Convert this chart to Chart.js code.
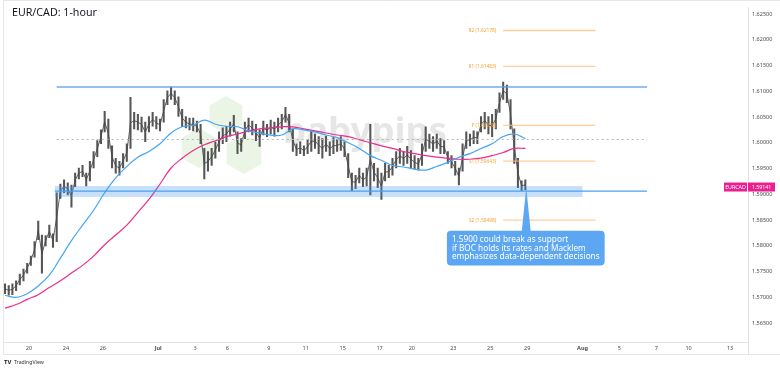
<!DOCTYPE html>
<html><head><meta charset="utf-8">
<script src="https://cdn.jsdelivr.net/npm/chart.js@4.4.1/dist/chart.umd.min.js"></script>
<style>html,body{margin:0;padding:0;background:#fff;}#wrap{width:780px;height:369px;position:relative;}</style>
</head><body><div id="wrap"><canvas id="c" width="780" height="369"></canvas></div>
<script>
// ---- DATA (x in trading days, 0 = Jun 20) ----
const title = 'EUR/CAD: 1-hour';
const candleStart = -1.3, candleStep = 0.2; // 4-hour sampling of the 1h chart
const candleHigh = [1.5726,1.5723,1.5726,1.5732,1.5745,1.5755,1.5766,1.5780,1.5808,1.5848,
1.5821,1.5820,1.5840,1.5823,1.5903,1.5920,1.5928,1.5922,1.5918,1.5941,
1.5951,1.5956,1.5941,1.5964,1.5983,1.6004,1.6025,1.6061,1.6046,1.5994,
1.5970,1.5964,1.5979,1.5998,1.6088,1.6059,1.6055,1.6050,1.6040,1.6051,
1.6059,1.6051,1.6046,1.6084,1.6101,1.6108,1.6101,1.6089,1.6065,1.6051,
1.6048,1.6048,1.6042,1.6036,1.5989,1.5983,1.5989,1.6002,1.6021,1.6029,
1.6032,1.6040,1.6053,1.6021,1.6008,1.6040,1.6048,1.6042,1.6036,1.6025,
1.6042,1.6036,1.6044,1.6040,1.6048,1.6055,1.6069,1.6055,1.6027,1.5998,
1.6002,1.5994,1.6006,1.6023,1.6017,1.6012,1.6008,1.6013,1.6002,1.6010,
1.6006,1.6012,1.6002,1.5979,1.5941,1.5937,1.5951,1.5941,1.5951,1.6036,
1.5960,1.5951,1.5941,1.5960,1.5956,1.5970,1.5983,1.5989,1.5983,1.5993,
1.5985,1.5975,1.5970,1.5998,1.6031,1.6017,1.6012,1.6017,1.6008,1.6004,
1.5983,1.5975,1.5964,1.5951,1.5998,1.6021,1.6017,1.6023,1.6021,1.6051,
1.6059,1.6051,1.6055,1.6065,1.6097,1.6118,1.6112,1.6084,1.6027,1.5970,
1.5926,1.5928];
const candleLow = [1.5707,1.5704,1.5705,1.5713,1.5724,1.5732,1.5747,1.5762,1.5778,1.5812,
1.5747,1.5800,1.5816,1.5797,1.5808,1.5892,1.5903,1.5899,1.5875,1.5915,
1.5930,1.5934,1.5916,1.5926,1.5951,1.5973,1.5998,1.6021,1.5989,1.5951,
1.5941,1.5937,1.5951,1.5964,1.5989,1.6027,1.6025,1.6021,1.6002,1.6021,
1.6032,1.6027,1.6023,1.6040,1.6074,1.6084,1.6074,1.6051,1.6031,1.6029,
1.6025,1.6023,1.6021,1.5998,1.5930,1.5945,1.5956,1.5970,1.5983,1.5998,
1.6002,1.6013,1.6021,1.5979,1.5983,1.6008,1.6021,1.6015,1.6004,1.5993,
1.6015,1.6012,1.6017,1.6013,1.6021,1.6027,1.6040,1.6021,1.5983,1.5975,
1.5979,1.5975,1.5979,1.5983,1.5989,1.5979,1.5970,1.5983,1.5975,1.5979,
1.5983,1.5985,1.5973,1.5932,1.5907,1.5911,1.5922,1.5915,1.5916,1.5899,
1.5926,1.5913,1.5890,1.5926,1.5932,1.5937,1.5951,1.5960,1.5956,1.5960,
1.5951,1.5949,1.5947,1.5956,1.5983,1.5989,1.5983,1.5989,1.5979,1.5979,
1.5960,1.5951,1.5937,1.5918,1.5945,1.5989,1.5994,1.5998,1.5998,1.6021,
1.6027,1.6017,1.6012,1.6027,1.6059,1.6084,1.6078,1.6027,1.5960,1.5913,
1.5907,1.5909];
const maStart = -1.3, maStep = 0.6;
const maBlue = [1.5704,1.5700,1.5707,1.5722,1.5743,1.5776,1.5810,1.5840,1.5869,1.5903,
1.5932,1.5954,1.5972,1.5983,1.5998,1.6019,1.6031,1.6034,1.6044,1.6036,
1.6032,1.6031,1.6023,1.6019,1.6015,1.6015,1.6027,1.6025,1.6021,1.6015,
1.6010,1.6000,1.5989,1.5975,1.5966,1.5956,1.5953,1.5949,1.5947,1.5954,
1.5962,1.5972,1.5979,1.5989,1.5998,1.6012,1.6017,1.6008];
const maPink = [1.5679,1.5686,1.5696,1.5705,1.5719,1.5732,1.5747,1.5762,1.5780,1.5802,
1.5821,1.5840,1.5865,1.5890,1.5920,1.5951,1.5970,1.5985,1.5996,1.6004,
1.6012,1.6017,1.6023,1.6027,1.6029,1.6031,1.6031,1.6027,1.6023,1.6019,
1.6015,1.6012,1.6006,1.6000,1.5994,1.5989,1.5983,1.5979,1.5975,1.5972,
1.5970,1.5968,1.5968,1.5970,1.5975,1.5981,1.5989,1.5989];
const xTickDays = [0,2,4,7,9,10.75,13,15,17,19,20.75,23,25,27,30,32,34,35.75,38];
const xTickLabels = ['20','24','26','Jul','3','6','9','11','15','17','20','23','25','29','Aug','5','7','10','13'];
const yTickValues = [1.565,1.570,1.575,1.580,1.585,1.590,1.595,1.600,1.605,1.610,1.615,1.620,1.625];
const resistanceLevel = 1.6108, dashedLevel = 1.6008, supportLevel = 1.5906;
const supportBand = [1.5895, 1.5916];
const pivotNames = ['R2','R1','P','S1','S2'];
const pivotValues = [1.62178,1.61483,1.60338,1.59643,1.58498];
const lastPrice = 1.59141, symbol = 'EURCAD';
const calloutLines = ['1.5900 could break as support','if BOC holds its rates and Macklem','emphasizes data-dependent decisions'];

// ---- annotation anchors (in data units) ----
const lineSpan = [1.5, 33.5], bandSpan = [1.4, 30.0], pivotSpan = [25.7, 30.7];
const calloutTip = {x: 26.95, y: 1.5913};
const calloutBox = {x0: 22.65, x1: 31.2, yTop: 1.5829, yBot: 1.5762};

const FAM = '"Noto Sans", "Open Sans", sans-serif';
function fitSize(ctx, text, font, weight, target){ctx.font = weight+' 100px '+font;return 100*target/ctx.measureText(text).width;}

const deco = {
  id:'deco',
  beforeDatasetsDraw(chart){
    const ctx = chart.ctx;
    ctx.save();
    ctx.strokeStyle = '#e6e6e6'; ctx.lineWidth = 1;
    ctx.beginPath(); ctx.moveTo(3.5,354.5); ctx.lineTo(3.5,0.5); ctx.lineTo(780,0.5); ctx.stroke();
    ctx.beginPath(); ctx.moveTo(3.5,354.5); ctx.lineTo(780,354.5); ctx.stroke();
    ctx.beginPath(); ctx.moveTo(748.5,342); ctx.lineTo(748.5,354.5); ctx.strokeStyle='#e0e3eb'; ctx.stroke();
    ctx.fillStyle = 'rgba(150,205,130,0.2)';
    [[226,115,19],[199,148,20],[244,154,20]].forEach(([cx,cy,r])=>{
      ctx.beginPath();
      for(let k=0;k<6;k++){const a=(-90+60*k)*Math.PI/180;const px=cx+r*Math.cos(a),py=cy+r*Math.sin(a);k?ctx.lineTo(px,py):ctx.moveTo(px,py);}
      ctx.closePath(); ctx.fill();
    });
    const ws = fitSize(ctx,'babypips',FAM,'bold',164);
    ctx.font = 'bold '+ws+'px '+FAM; ctx.fillStyle='rgba(140,140,140,0.22)'; ctx.textBaseline='alphabetic'; ctx.textAlign='left';
    ctx.fillText('babypips',283,143);
    ctx.restore();
  },
  afterDatasetsDraw(chart){
    const ctx = chart.ctx, xs = chart.scales.x, ys = chart.scales.y;
    const X = v=>xs.getPixelForValue(v), Y = v=>ys.getPixelForValue(v);
    ctx.save();
    ctx.fillStyle = 'rgba(66,150,240,0.30)';
    ctx.fillRect(X(bandSpan[0]), Y(supportBand[1]), X(bandSpan[1])-X(bandSpan[0]), Y(supportBand[0])-Y(supportBand[1]));
    ctx.strokeStyle = 'rgba(90,160,235,0.65)'; ctx.lineWidth = 2;
    ctx.beginPath(); ctx.moveTo(X(lineSpan[0]),Y(resistanceLevel)); ctx.lineTo(X(lineSpan[1]),Y(resistanceLevel)); ctx.stroke();
    ctx.strokeStyle = '#4a9ff0'; ctx.lineWidth = 1.3;
    ctx.beginPath(); ctx.moveTo(X(bandSpan[0]),Y(supportLevel)); ctx.lineTo(X(lineSpan[1]),Y(supportLevel)); ctx.stroke();
    ctx.strokeStyle = '#b5b5b5'; ctx.lineWidth = 1; ctx.setLineDash([2,3]);
    ctx.beginPath(); ctx.moveTo(X(lineSpan[0]),Math.round(Y(dashedLevel))+0.5); ctx.lineTo(X(lineSpan[1]),Math.round(Y(dashedLevel))+0.5); ctx.stroke();
    ctx.setLineDash([]);
    ctx.font = '4.8px '+FAM; ctx.textAlign='right'; ctx.textBaseline='middle';
    pivotValues.forEach((v,i)=>{
      const y = Y(v);
      ctx.strokeStyle='rgba(255,190,120,0.75)'; ctx.lineWidth=1.4;
      ctx.beginPath(); ctx.moveTo(X(pivotSpan[0]),y); ctx.lineTo(X(pivotSpan[1]),y); ctx.stroke();
      ctx.fillStyle='#f5a33a';
      ctx.fillText(pivotNames[i]+' ('+v.toFixed(5)+')', X(pivotSpan[0])-7, y);
    });
    const tipX = X(calloutTip.x), tipY = Y(calloutTip.y);
    const bx0 = X(calloutBox.x0), bx1 = X(calloutBox.x1), by0 = Y(calloutBox.yTop), by1 = Y(calloutBox.yBot);
    ctx.fillStyle = '#5ca6f2';
    ctx.beginPath(); ctx.moveTo(tipX,tipY); ctx.lineTo(tipX+4.5,by0+1); ctx.lineTo(tipX-4.5,by0+1); ctx.closePath(); ctx.fill();
    ctx.beginPath(); ctx.roundRect(bx0,by0,bx1-bx0,by1-by0,4); ctx.fill();
    const fs = fitSize(ctx,calloutLines[2],FAM,'normal',148);
    ctx.font = fs+'px '+FAM; ctx.fillStyle='#ffffff'; ctx.textAlign='left'; ctx.textBaseline='alphabetic';
    calloutLines.forEach((t,i)=>ctx.fillText(t,bx0+5,by0+11+i*8.7));
    const py = Y(lastPrice);
    ctx.fillStyle = '#ec1f8e';
    ctx.fillRect(724,py-4.5,23,9); ctx.fillRect(748,py-4.5,27,9);
    ctx.fillStyle='#fff'; ctx.font='5.3px '+FAM; ctx.textAlign='center'; ctx.textBaseline='middle';
    ctx.fillText(symbol,735.5,py+0.3); ctx.fillText(lastPrice.toFixed(5),761.5,py+0.3);
    const ts = fitSize(ctx,title,FAM,'normal',85);
    ctx.font = ts+'px '+FAM; ctx.fillStyle='#131722'; ctx.textAlign='left'; ctx.textBaseline='alphabetic';
    ctx.fillText(title,12,15.5);
    ctx.font='bold 6px '+FAM; ctx.fillStyle='#131722'; ctx.fillText('TV',4,364);
    ctx.font='5.2px '+FAM; ctx.fillStyle='#333'; ctx.fillText('TradingView',14,364);
    ctx.restore();
  }
};

const candleX = i => candleStart + candleStep*i;
new Chart(document.getElementById('c'), {
  type:'bar',
  data:{datasets:[
    {type:'line', data: maBlue.map((v,k)=>({x:maStart+maStep*k,y:v})), borderColor:'#42a5f5', borderWidth:1.2, pointRadius:0, tension:0.4, order:0},
    {type:'line', data: maPink.map((v,k)=>({x:maStart+maStep*k,y:v})), borderColor:'#ee2c8c', borderWidth:1.2, pointRadius:0, tension:0.4, order:0},
    {type:'line', data: candleHigh.map((h,i)=>({x:candleX(i), y:(h+candleLow[i])/2})), borderColor:'rgba(70,70,70,0.85)', borderWidth:1, pointRadius:0, tension:0, order:1},
    {type:'bar', data: candleHigh.map((h,i)=>({x:candleX(i), y:[candleLow[i],h]})), backgroundColor:'#555555', barThickness:1.4, grouped:false, order:2}
  ]},
  options:{
    responsive:false, animation:false, devicePixelRatio:1,
    layout:{padding:{left:3,top:1,right:0,bottom:0}},
    plugins:{legend:{display:false},tooltip:{enabled:false}},
    scales:{
      x:{type:'linear', min:-1.41, max:38.97, offset:false,
        grid:{display:false, drawTicks:false}, border:{display:true,color:'#e0e3eb'},
        afterBuildTicks(s){s.ticks = xTickDays.map(v=>({value:v}));},
        afterFit(s){s.height = 27;},
        ticks:{autoSkip:false, maxRotation:0, padding:3, color:'#4a4a4a',
          callback:(v,i)=>xTickLabels[i],
          font:(c)=>({size:5.5, family:FAM, weight: /^[A-Z]/.test(xTickLabels[c.index]||'')?'bold':'normal'})}
      },
      y:{type:'linear', position:'right', min:1.56133, max:1.62629,
        grid:{display:false, drawTicks:false}, border:{display:true,color:'#e0e3eb'},
        afterBuildTicks(s){s.ticks = yTickValues.map(v=>({value:v}));},
        afterFit(s){s.width = 32;},
        ticks:{padding:4, color:'#4a4a4a', font:{size:5.5, family:FAM}, callback:v=>v.toFixed(5)}
      }
    }
  },
  plugins:[deco]
});
</script></body></html>
